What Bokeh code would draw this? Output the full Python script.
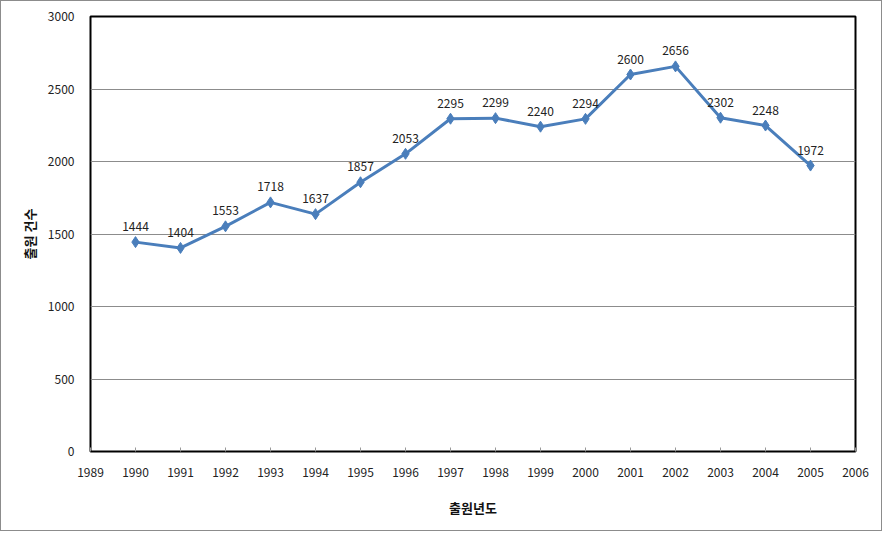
from bokeh.plotting import figure
from bokeh.models import ColumnDataSource, Range1d, FixedTicker, LabelSet
from bokeh.core.properties import value
from bokeh.embed import file_html
from bokeh.resources import INLINE

years = [1990, 1991, 1992, 1993, 1994, 1995, 1996, 1997, 1998, 1999, 2000, 2001, 2002, 2003, 2004, 2005]
counts = [1444, 1404, 1553, 1718, 1637, 1857, 2053, 2295, 2299, 2240, 2294, 2600, 2656, 2302, 2248, 1972]
x_ticks = list(range(1989, 2007))
y_ticks = [0, 500, 1000, 1500, 2000, 2500, 3000]
x_title = "출원년도"
y_title = "출원 건수"

FONT = "Noto Sans CJK KR"
BLUE = "#4A7EBB"

src = ColumnDataSource(dict(x=years, y=counts, lbl=[str(c) for c in counts]))

p = figure(width=882, height=531, output_backend="svg", toolbar_location=None,
           x_range=Range1d(1989, 2006), y_range=Range1d(0, 3000))
p.styles = {"border": "1px solid #8C8C8C"}
p.min_border_left = 89
p.min_border_right = 28
p.min_border_top = 15
p.min_border_bottom = 81
p.background_fill_color = "white"
p.border_fill_color = "white"
p.outline_line_color = "black"
p.outline_line_width = 2

p.xgrid.grid_line_color = None
p.ygrid.grid_line_color = "#8C8C8C"
p.ygrid.grid_line_width = 1

p.xaxis.ticker = FixedTicker(ticks=x_ticks)
p.yaxis.ticker = FixedTicker(ticks=y_ticks)
for ax in (p.xaxis, p.yaxis):
    ax.axis_line_color = None
    ax.minor_tick_line_color = None
    ax.major_label_text_font = FONT
    ax.major_label_text_font_size = "12px"
    ax.major_label_text_color = "#222222"
    ax.axis_label_text_font = FONT
    ax.axis_label_text_font_size = "13px"
    ax.axis_label_text_font_style = "bold"
    ax.axis_label_text_color = "#111111"
p.xaxis.major_tick_line_color = "#999999"
p.xaxis.major_tick_in = 4
p.xaxis.major_tick_out = 0
p.yaxis.major_tick_line_color = None
p.xaxis.major_label_standoff = 16
p.yaxis.major_label_standoff = 10
p.xaxis.axis_label = x_title
p.yaxis.axis_label = y_title
p.xaxis.axis_label_standoff = 18
p.yaxis.axis_label_standoff = 6

p.line("x", "y", source=src, line_color=BLUE, line_width=3)
p.scatter("x", "y", source=src, marker="diamond", size=11, fill_color=BLUE, line_color=BLUE)

labels = LabelSet(x="x", y="y", text="lbl", source=src, x_offset=0, y_offset=11,
                  text_align="center", text_baseline="bottom",
                  text_font=value(FONT), text_font_size=value("12px"), text_color="#222222")
p.add_layout(labels)

out = file_html(p, INLINE)
out = out.replace("<body>", '<body style="margin:0">', 1)
open("out.html", "w").write(out)
